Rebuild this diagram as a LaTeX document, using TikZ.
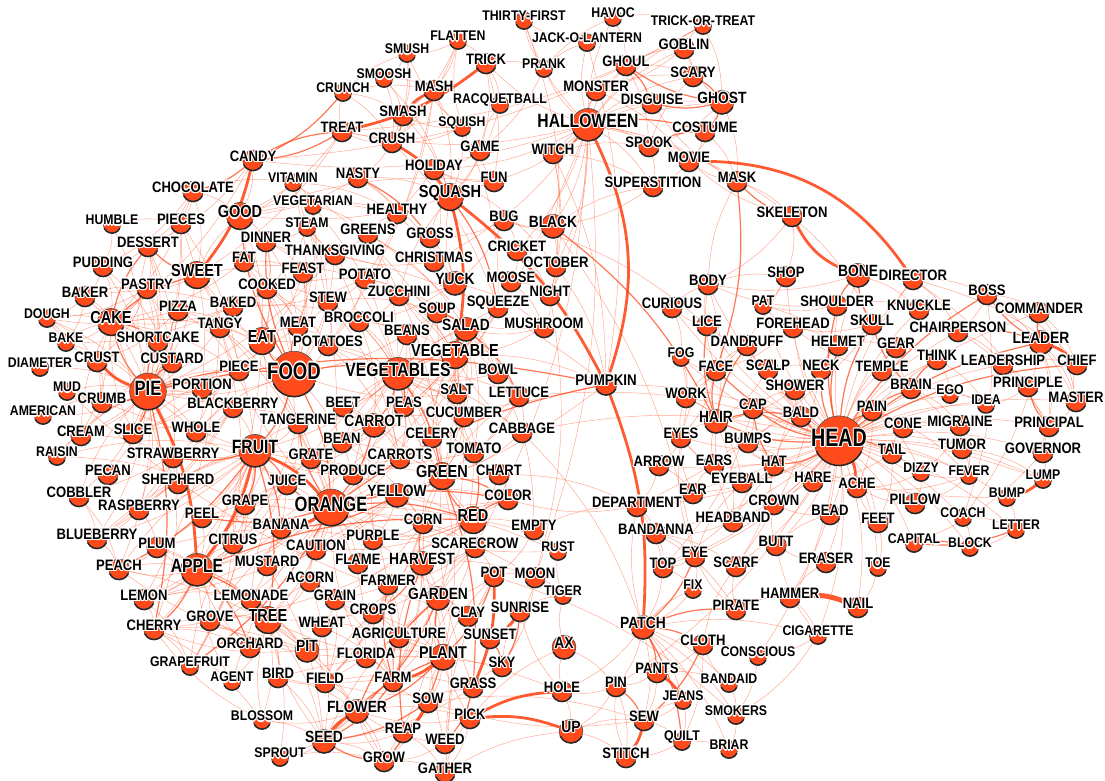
\documentclass[tikz,border=0pt]{standalone}
\usepackage{fontspec}
\setmainfont{Liberation Sans}
\usepackage{graphicx}
\usetikzlibrary{backgrounds}

\definecolor{netred}{HTML}{FF4A1C}

% white outline round the words
\newcommand\hcopy[3]{\rlap{\hspace*{#1}\raisebox{#2}{\textcolor{white}{#3}}}}
\newcommand\halo[1]{\hcopy{1.3pt}{0pt}{#1}\hcopy{-1.3pt}{0pt}{#1}\hcopy{0pt}{1.3pt}{#1}\hcopy{0pt}{-1.3pt}{#1}%
  \hcopy{.9pt}{.9pt}{#1}\hcopy{-.9pt}{.9pt}{#1}\hcopy{.9pt}{-.9pt}{#1}\hcopy{-.9pt}{-.9pt}{#1}#1}

\tikzset{
  wdot/.style={circle, fill=netred, draw=black!70, line width=0.6pt, inner sep=0pt},
  wrim/.style={draw=black!85, line width=1.5pt},
  wlabel/.style={inner sep=0pt, text=black},
  thinedge/.style={draw=netred, draw opacity=0.5, line width=0.45pt},
  midedge/.style={draw=netred, draw opacity=0.75, line width=1.2pt},
  fatedge/.style={draw=netred, draw opacity=0.9, line width=2.8pt},
}

% id / x / y / radius / word
\newcommand\wordlist{thirtyfirst/524/16/8/THIRTY-FIRST,havoc/613/13/8/HAVOC,trickortreat/703/21/8/TRICK-OR-TREAT,
flatten/458/36/8/FLATTEN,jackolantern/587/38/8/JACK-O-LANTERN,goblin/684/44/9.5/GOBLIN,smush/407/49/8/SMUSH,
trick/486/59/9.5/TRICK,prank/544/64/8/PRANK,ghoul/626/61/9.5/GHOUL,scary/693/72/9.5/SCARY,smoosh/384/74/8/SMOOSH,
crunch/343/88/8/CRUNCH,mash/434/86/9.5/MASH,monster/596/86/9.5/MONSTER,racquetball/500/100/8/RACQUETBALL,
disguise/652/99/9.5/DISGUISE,ghost/722/98/11/GHOST,smash/403/111/9.5/SMASH,halloween/588/121/15/HALLOWEEN,
squish/462/123/8/SQUISH,costume/705/127/9.5/COSTUME,treat/342/127/9.5/TREAT,crush/392/138/9.5/CRUSH,
game/480/146/9.5/GAME,spook/649/142/9.5/SPOOK,witch/553/149/9.5/WITCH,movie/689/157/9.5/MOVIE,
candy/253/156/9.5/CANDY,holiday/434/165/9.5/HOLIDAY,fun/494/177/9.5/FUN,nasty/358/173/9.5/NASTY,
mask/737/177/9.5/MASK,superstition/653/182/9.5/SUPERSTITION,vitamin/293/178/8/VITAMIN,chocolate/193/187/9.5/CHOCOLATE,
squash/450/193/12.5/SQUASH,healthy/397/209/9.5/HEALTHY,vegetarian/313/201/8/VEGETARIAN,bug/504/216/9.5/BUG,
black/553/222/11/BLACK,skeleton/792/212/9.5/SKELETON,good/240/212/12.5/GOOD,humble/112/220/8/HUMBLE,
pieces/181/219/9.5/PIECES,steam/307/223/8/STEAM,greens/368/229/9.5/GREENS,gross/430/233/9.5/GROSS,
dinner/266/237/9.5/DINNER,dessert/148/242/9.5/DESSERT,thanksgiving/335/250/9.5/THANKSGIVING,cricket/517/246/9.5/CRICKET,
christmas/434/257/9.5/CHRISTMAS,october/556/262/9.5/OCTOBER,fat/244/257/9.5/FAT,pudding/103/262/9.5/PUDDING,
sweet/197/271/12.5/SWEET,feast/303/268/9.5/FEAST,potato/365/274/9.5/POTATO,yuck/455/279/11/YUCK,
moose/511/277/9.5/MOOSE,body/708/280/9.5/BODY,shop/786/272/9.5/SHOP,bone/858/271/11/BONE,
director/913/275/9.5/DIRECTOR,boss/987/290/9.5/BOSS,baker/85/292/9.5/BAKER,pastry/147/284/9.5/PASTRY,
cooked/267/284/9.5/COOKED,zucchini/399/291/9.5/ZUCCHINI,night/550/291/9.5/NIGHT,curious/672/303/9.5/CURIOUS,
pat/763/301/8/PAT,shoulder/837/301/9.5/SHOULDER,knuckle/919/305/9.5/KNUCKLE,commander/1039/308/9.5/COMMANDER,
stew/328/297/9.5/STEW,soup/437/308/9.5/SOUP,squeeze/498/303/9.5/SQUEEZE,pizza/178/306/9.5/PIZZA,
baked/233/302/9.5/BAKED,dough/47/314/8/DOUGH,cake/111/318/12.5/CAKE,meat/298/322/9.5/MEAT,
broccoli/359/317/9.5/BROCCOLI,tangy/220/323/9.5/TANGY,salad/466/325/11/SALAD,mushroom/544/323/9.5/MUSHROOM,
lice/707/321/9.5/LICE,forehead/793/323/9.5/FOREHEAD,skull/872/320/9.5/SKULL,chairperson/958/327/9.5/CHAIRPERSON,
leader/1041/338/11/LEADER,bake/66/338/8/BAKE,shortcake/158/337/9.5/SHORTCAKE,eat/262/337/12.5/EAT,
potatoes/328/341/9.5/POTATOES,beans/407/330/9.5/BEANS,dandruff/747/341/9.5/DANDRUFF,helmet/838/341/9.5/HELMET,
gear/896/343/9.5/GEAR,think/937/355/9.5/THINK,leadership/1003/360/9.5/LEADERSHIP,chief/1077/360/9.5/CHIEF,
crust/97/357/9.5/CRUST,custard/172/358/9.5/CUSTARD,vegetable/455/351/12.5/VEGETABLE,fog/681/353/8/FOG,
diameter/40/363/8/DIAMETER,piece/239/366/9.5/PIECE,food/294/371/21/FOOD,vegetables/398/370/15/VEGETABLES,
bowl/498/369/9.5/BOWL,face/716/366/9.5/FACE,scalp/768/365/9.5/SCALP,neck/821/365/9.5/NECK,
temple/882/366/9.5/TEMPLE,portion/202/384/9.5/PORTION,salt/457/389/9.5/SALT,lettuce/519/392/9.5/LETTUCE,
pumpkin/606/380/10/PUMPKIN,shower/795/385/9.5/SHOWER,brain/911/384/9.5/BRAIN,ego/950/390/8/EGO,
principle/1028/382/9.5/PRINCIPLE,mud/67/387/8/MUD,pie/148/388/17/PIE,crumb/102/398/9.5/CRUMB,
blackberry/233/403/9.5/BLACKBERRY,beet/343/402/9.5/BEET,peas/404/402/9.5/PEAS,work/686/393/9.5/WORK,
cap/753/404/9.5/CAP,bald/801/412/9.5/BALD,pain/872/406/9.5/PAIN,idea/986/400/8/IDEA,
master/1076/397/9.5/MASTER,american/43/411/8/AMERICAN,tangerine/298/419/9.5/TANGERINE,carrot/374/421/11/CARROT,
cucumber/464/412/9.5/CUCUMBER,cone/903/423/9.5/CONE,migraine/960/421/9.5/MIGRAINE,hair/716/417/11/HAIR,
principal/1049/422/9.5/PRINCIPAL,cream/81/431/9.5/CREAM,slice/133/429/9.5/SLICE,whole/196/427/9.5/WHOLE,
bean/342/438/9.5/BEAN,celery/432/433/9.5/CELERY,tomato/474/448/9.5/TOMATO,cabbage/522/428/9.5/CABBAGE,
eyes/681/433/9.5/EYES,bumps/748/438/9.5/BUMPS,head/839/438/23/HEAD,tail/892/449/9.5/TAIL,
tumor/962/444/9.5/TUMOR,governor/1043/448/9.5/GOVERNOR,raisin/57/452/8/RAISIN,strawberry/173/453/9.5/STRAWBERRY,
fruit/255/447/15/FRUIT,grate/311/454/9.5/GRATE,carrots/400/454/9.5/CARROTS,arrow/659/461/9.5/ARROW,
ears/714/460/9.5/EARS,hat/774/461/9.5/HAT,dizzy/921/468/8/DIZZY,fever/969/471/8/FEVER,
lump/1043/475/8/LUMP,pecan/108/470/9.5/PECAN,produce/353/470/9.5/PRODUCE,green/442/472/12.5/GREEN,
chart/499/470/9.5/CHART,eyeball/742/478/9.5/EYEBALL,hare/813/477/9.5/HARE,ache/857/483/9.5/ACHE,
shepherd/178/479/9.5/SHEPHERD,juice/287/480/9.5/JUICE,yellow/397/491/11/YELLOW,color/508/495/9.5/COLOR,
department/637/502/9.5/DEPARTMENT,ear/693/489/9.5/EAR,crown/774/500/9.5/CROWN,pillow/915/499/9.5/PILLOW,
bump/1007/493/8/BUMP,cobbler/79/492/9.5/COBBLER,raspberry/139/505/9.5/RASPBERRY,grape/245/500/9.5/GRAPE,
orange/331/504/17/ORANGE,peel/202/513/9.5/PEEL,banana/281/524/9.5/BANANA,red/473/516/12.5/RED,
empty/534/525/9.5/EMPTY,headband/733/517/9.5/HEADBAND,bead/830/510/9.5/BEAD,coach/963/513/8/COACH,
feet/878/518/9.5/FEET,letter/1016/525/8/LETTER,blueberry/97/534/9.5/BLUEBERRY,plum/157/543/9.5/PLUM,
citrus/233/539/9.5/CITRUS,caution/316/545/9.5/CAUTION,corn/423/519/9.5/CORN,scarecrow/475/543/9.5/SCARECROW,
rust/558/547/8/RUST,bandanna/656/529/9.5/BANDANNA,butt/776/541/9.5/BUTT,capital/914/539/8/CAPITAL,
block/970/543/8/BLOCK,purple/373/535/9.5/PURPLE,peach/119/565/9.5/PEACH,apple/197/566/15/APPLE,
mustard/267/561/9.5/MUSTARD,flame/358/559/9.5/FLAME,harvest/422/559/11/HARVEST,pot/494/572/9.5/POT,
moon/535/573/9.5/MOON,eye/695/552/9.5/EYE,scarf/736/562/9.5/SCARF,eraser/826/558/9.5/ERASER,
toe/878/563/8/TOE,tiger/563/591/8/TIGER,top/663/563/9.5/TOP,fix/693/585/8/FIX,
acorn/310/577/9.5/ACORN,farmer/388/580/9.5/FARMER,lemon/144/595/9.5/LEMON,lemonade/251/595/9.5/LEMONADE,
grain/335/595/9.5/GRAIN,garden/438/594/11/GARDEN,sunrise/520/607/9.5/SUNRISE,pirate/736/605/9.5/PIRATE,
hammer/790/593/9.5/HAMMER,nail/858/603/9.5/NAIL,cherry/154/625/9.5/CHERRY,grove/210/616/9.5/GROVE,
tree/268/616/12.5/TREE,wheat/322/622/9.5/WHEAT,crops/373/609/9.5/CROPS,clay/468/612/9.5/CLAY,
patch/643/623/11/PATCH,cigarette/818/631/8/CIGARETTE,orchard/250/643/9.5/ORCHARD,pit/307/646/11/PIT,
agriculture/399/633/9.5/AGRICULTURE,sunset/490/634/9.5/SUNSET,ax/564/643/11/AX,cloth/703/640/9.5/CLOTH,
conscious/758/652/8/CONSCIOUS,grapefruit/190/662/8/GRAPEFRUIT,agent/232/677/8/AGENT,bird/278/673/9.5/BIRD,
florida/366/653/9.5/FLORIDA,plant/443/653/12/PLANT,pants/657/668/9.5/PANTS,field/325/678/9.5/FIELD,
farm/393/677/9.5/FARM,sky/502/662/9.5/SKY,grass/473/683/9.5/GRASS,hole/562/687/9.5/HOLE,
pin/616/682/9.5/PIN,jeans/683/696/8/JEANS,bandaid/729/679/8/BANDAID,flower/357/707/11/FLOWER,
sow/428/698/9.5/SOW,pick/470/714/9.5/PICK,sew/644/716/9.5/SEW,smokers/736/711/8/SMOKERS,
blossom/262/716/8/BLOSSOM,seed/324/737/11/SEED,reap/403/728/9.5/REAP,up/571/727/11/UP,
quilt/682/737/8/QUILT,weed/445/739/9.5/WEED,sprout/280/753/8/SPROUT,grow/384/757/9.5/GROW,
stitch/626/753/9.5/STITCH,briar/729/745/8/BRIAR,gather/445/768/9.5/GATHER}

\begin{document}
\begin{tikzpicture}[x=1pt, y=-1pt]
  \useasboundingbox (0,0) rectangle (1105,780);

  % circles
  \foreach \id/\px/\py/\rad/\word in \wordlist {
    \pgfmathsetmacro\off{4.5-0.12*(\rad-8)}
    \pgfmathsetmacro\rr{1.08*\rad}
    \node[wdot, minimum size=2*\rr*1pt] (\id) at (\px,\py+\off) {};
    \draw[wrim] (\id.center) ++(205:\rr*1pt) arc[start angle=205, end angle=335, radius=\rr*1pt];
  }

  % words
  \foreach \id/\px/\py/\rad/\word in \wordlist {
    \pgfmathsetmacro\fs{8+0.75*\rad}
    \pgfmathsetmacro\sx{max(0.78,0.95-0.009*\rad)}
    \node[wlabel, font=\fontsize{\fs}{\fs}\selectfont\bfseries] (\id-t) at (\px,\py) {\scalebox{\sx}[1]{\halo{\word}}};
  }

  \begin{scope}[on background layer]
    \fill[white] (0,0) rectangle (1105,780);

    % weak links
    \foreach \a/\b in {halloween/witch,halloween/ghost,halloween/goblin,halloween/monster,halloween/scary,halloween/spook,
      halloween/october,halloween/black,halloween/candy,halloween/trickortreat,halloween/jackolantern,halloween/thirtyfirst,
      halloween/mask,halloween/disguise,halloween/holiday,halloween/superstition,halloween/skeleton,halloween/night,
      halloween/treat,halloween/prank,halloween/havoc,halloween/trick,halloween/ghoul,halloween/movie,halloween/fun,
      halloween/moon,halloween/scarecrow,halloween/christmas,halloween/orange,halloween/cricket,
      ghost/spook,ghost/goblin,ghost/movie,ghost/mask,ghoul/goblin,ghoul/monster,ghoul/scary,ghoul/spook,goblin/scary,
      goblin/trickortreat,goblin/monster,monster/scary,monster/movie,monster/disguise,monster/witch,witch/black,witch/spook,
      witch/superstition,witch/night,witch/ghost,black/cricket,black/bug,black/night,black/october,black/superstition,
      costume/mask,costume/movie,mask/disguise,mask/skeleton,mask/movie,movie/superstition,spook/superstition,spook/scary,
      trick/prank,trick/game,trick/racquetball,trick/fun,prank/havoc,prank/game,prank/jackolantern,prank/thirtyfirst,
      jackolantern/pumpkin,jackolantern/thirtyfirst,thirtyfirst/october,havoc/trickortreat,havoc/ghoul,trickortreat/treat,
      trickortreat/candy,trickortreat/ghost,fun/game,fun/holiday,fun/good,game/racquetball,game/squash,game/holiday,
      racquetball/squash,squish/squash,squish/smash,squish/smush,squish/mash,squish/crush,squish/squeeze,squish/flatten,
      flatten/smush,flatten/smash,flatten/crush,flatten/mash,flatten/trick,smush/smoosh,smush/smash,smush/crush,
      smoosh/smash,smoosh/mash,smoosh/crush,smoosh/squash,crunch/crush,crunch/smash,crunch/smush,crunch/mash,
      mash/potato,mash/potatoes,mash/squash,mash/crush,smash/squash,crush/squeeze,crush/nasty,crush/treat,treat/good,
      treat/sweet,treat/holiday,treat/crunch,holiday/christmas,holiday/thanksgiving,holiday/october,christmas/thanksgiving,
      christmas/greens,thanksgiving/feast,thanksgiving/dinner,thanksgiving/food,thanksgiving/pumpkin,thanksgiving/pie,
      bug/cricket,bug/gross,bug/yuck,bug/lice,cricket/night,cricket/moose,october/night,october/pumpkin,moose/squeeze,
      moose/night,moose/mushroom,night/moon,night/mushroom}
      \draw[thinedge] (\a) to[bend left=12] (\b);
    \foreach \a/\b in {candy/good,candy/cake,candy/dessert,chocolate/sweet,chocolate/cake,chocolate/pudding,
      chocolate/dessert,chocolate/pieces,chocolate/good,chocolate/vitamin,vitamin/healthy,vitamin/vegetable,vitamin/food,
      vitamin/orange,vitamin/good,vitamin/vegetarian,nasty/yuck,nasty/good,nasty/squash,nasty/healthy,vegetarian/meat,
      vegetarian/vegetables,vegetarian/food,vegetarian/healthy,vegetarian/greens,vegetarian/steam,good/eat,good/healthy,
      good/fun,good/dinner,good/fat,humble/pie,humble/pieces,humble/pudding,pieces/pie,pieces/piece,pieces/portion,
      pieces/slice,pieces/dessert,steam/cooked,steam/vegetables,steam/stew,steam/broccoli,steam/dinner,greens/green,
      greens/vegetables,greens/salad,greens/lettuce,greens/healthy,gross/yuck,gross/squash,gross/healthy,dinner/eat,
      dinner/feast,dinner/meat,dinner/cooked,dessert/pie,dessert/pudding,dessert/pastry,dessert/custard,dessert/shortcake,
      fat/food,fat/eat,fat/meat,fat/cake,fat/feast,pudding/custard,pudding/pie,pudding/cake,pudding/baker,sweet/pie,
      sweet/potato,sweet/tangy,sweet/pastry,sweet/good,sweet/fruit,sweet/orange,feast/food,feast/eat,feast/meat,
      potato/potatoes,potato/vegetable,potato/baked,potato/salad,potato/soup,potato/stew,yuck/squash,yuck/broccoli,
      yuck/mushroom,yuck/zucchini,baker/bake,baker/cake,baker/dough,baker/pastry,baker/pie,baker/baked,pastry/pie,
      pastry/cake,pastry/dough,pastry/crust,pastry/shortcake,pastry/custard,cooked/food,cooked/meat,cooked/baked,
      cooked/stew,cooked/eat,cooked/potatoes,zucchini/squash,zucchini/vegetable,zucchini/cucumber,zucchini/broccoli,
      stew/soup,stew/meat,stew/potatoes,stew/food,stew/carrots,stew/vegetables,soup/vegetable,soup/bowl,soup/food,
      soup/beans,soup/vegetables,squeeze/juice,squeeze/orange,squeeze/lemon,pizza/pie,pizza/food,pizza/slice,pizza/eat,
      pizza/dough,pizza/crust,pizza/piece,baked/bake,baked/potato,baked/beans,baked/cake,baked/pie,dough/bake,dough/cake,
      dough/pie,dough/crust,cake/bake,cake/eat,cake/slice,cake/cream,cake/piece,cake/custard,meat/potatoes,meat/pie,
      broccoli/vegetable,broccoli/vegetables,broccoli/green,broccoli/carrot,tangy/orange,tangy/tangerine,tangy/lemon,
      tangy/citrus,salad/vegetable,salad/tomato,salad/bowl,salad/green,salad/cucumber,salad/vegetables,mushroom/soup,
      mushroom/salad,mushroom/vegetable,bake/pie,bake/cake,shortcake/strawberry,shortcake/pie,eat/piece,eat/pie,eat/fruit,
      eat/apple,eat/meat,eat/vegetables,potatoes/vegetables,potatoes/carrots,potatoes/food,beans/bean,beans/vegetables,
      beans/peas,beans/green,crust/crumb,crust/dough,custard/cream,vegetable/carrot,vegetable/pumpkin,vegetable/garden,
      vegetable/corn,vegetable/celery,diameter/pie,diameter/crust,piece/pie,piece/slice,piece/portion,piece/whole,
      food/pie,food/apple,food/produce,vegetables/salad,vegetables/celery,vegetables/fruit,vegetables/produce,
      vegetables/carrots,vegetables/cabbage,vegetables/lettuce,vegetables/corn,vegetables/beet,vegetables/tomato,
      vegetables/cucumber,bowl/salad,bowl/empty,bowl/vegetables,portion/pie,portion/slice,portion/whole,salt/food,
      salt/potatoes,salt/vegetables,salt/soup,lettuce/cabbage,lettuce/tomato,lettuce/head,lettuce/green,pumpkin/pie,
      pumpkin/orange,mud/pie,mud/clay,mud/crumb,pie/pecan,pie/american,pie/shepherd,pie/strawberry,pie/blackberry,
      pie/cobbler,pie/cream,pie/whole,pie/peach,pie/blueberry,pie/raspberry,pie/portion,pie/piece,pie/dessert,crumb/cake,
      blackberry/strawberry,blackberry/raspberry,blackberry/blueberry,blackberry/fruit,blackberry/cobbler,beet/red,
      beet/vegetable,beet/carrot,beet/purple,peas/carrots,peas/carrot,peas/green,peas/vegetable,american/pie,
      tangerine/fruit,tangerine/citrus,tangerine/juice,carrot/celery,carrot/carrots,carrot/grate,cucumber/salad,
      cucumber/green,cucumber/tomato,cucumber/vegetable,cream/pie,cream/custard,cream/cake,cream/strawberry,slice/piece,
      slice/whole,slice/cake,whole/piece,whole/food,bean/green,bean/corn,bean/carrot,bean/vegetables,celery/vegetable,
      celery/green,celery/salad,tomato/vegetable,tomato/fruit,tomato/garden,tomato/vegetables,cabbage/green,cabbage/head,
      cabbage/vegetable,raisin/grape,raisin/fruit,raisin/pie,raisin/cream,strawberry/red,strawberry/raspberry,
      strawberry/blueberry,strawberry/cherry,fruit/lemon,fruit/citrus,fruit/tangerine,fruit/produce,fruit/pie,fruit/peel,
      fruit/raspberry,fruit/blueberry,fruit/grapefruit,fruit/plum,fruit/cherry,grate/carrot,grate/orange,grate/peel,
      grate/food,carrots/orange,carrots/vegetables,carrots/grate,produce/vegetables,produce/fruit,produce/farm,
      produce/green,green/plant,green/vegetables,green/lettuce,chart/color,chart/department,chart/green,chart/red,
      juice/apple,juice/grape,juice/lemonade,juice/squeeze,yellow/color,yellow/corn,yellow/lemon,yellow/caution,
      yellow/mustard,yellow/purple,color/orange,color/purple,color/yellow,shepherd/pie,shepherd/fruit,cobbler/peach,
      cobbler/pie,cobbler/blueberry,raspberry/blueberry,raspberry/fruit,raspberry/plum,grape/purple,grape/juice,
      grape/grapefruit,grape/orange,orange/apple,orange/citrus,orange/florida,orange/lemon,orange/tree,orange/grove,
      orange/purple,orange/caution,orange/tangy,orange/agent,orange/rust,orange/flame,orange/tiger,peel/banana,
      peel/apple,banana/apple,red/purple,red/cherry,red/flame,red/caution,red/rust,red/empty,red/scarecrow,empty/pot,
      blueberry/fruit,blueberry/peach,plum/purple,plum/peach,plum/pit,plum/apple,citrus/lemon,citrus/grapefruit,
      citrus/fruit,caution/flame,caution/mustard,corn/yellow,corn/farm,corn/field,corn/crops,corn/green,corn/scarecrow,
      corn/grain,corn/purple,scarecrow/crops,scarecrow/farm,scarecrow/field,scarecrow/harvest,scarecrow/farmer,
      scarecrow/pot,rust/orange,peach/fruit,peach/pit,peach/apple,apple/juice,apple/pit,apple/lemon,apple/peach,
      apple/plum,apple/citrus,apple/lemonade,apple/grove,mustard/seed,mustard/banana,flame/purple,harvest/farm,
      harvest/farmer,harvest/gather,harvest/moon,harvest/grain,harvest/wheat,harvest/garden,pot/clay,pot/garden,pot/moon,
      pot/smokers,moon/sunrise,moon/sky,moon/tiger,tiger/rust,acorn/tree,acorn/seed,acorn/grain,acorn/orange,
      farmer/field,farmer/crops,farmer/agriculture,lemon/lemonade,lemon/grapefruit,lemon/cherry,lemonade/juice,
      lemonade/grove,grain/wheat,grain/field,grain/crops,grain/farm,garden/seed,garden/grow,garden/weed,garden/clay,
      sunrise/sky,sunrise/tiger,cherry/tree,cherry/pit,cherry/blossom,cherry/orchard,cherry/grapefruit,grove/tree,
      grove/orchard,grove/orange,tree/seed,tree/plant,tree/bird,tree/flower,tree/sprout,tree/acorn,tree/blossom,tree/grow,
      wheat/field,wheat/farm,wheat/crops,crops/field,crops/agriculture,crops/plant,crops/grain,clay/mud,agriculture/farm,
      agriculture/farmer,agriculture/plant,pit/peach,pit/cherry,pit/hole,orchard/apple,grapefruit/citrus,agent/orange,
      agent/apple,bird/seed,bird/flower,bird/sky,florida/orange,florida/farm,florida/grove,plant/tree,plant/pot,plant/sow,
      plant/field,field/flower,field/grass,field/crops,field/wheat,field/bird,farm/crops,farm/agriculture,farm/harvest,
      sky/sunrise,grass/green,grass/field,grass/seed,grass/sky,flower/blossom,flower/sprout,flower/grow,flower/pick,
      sow/plant,sow/sew,sow/grow,sow/farm,pick/gather,pick/harvest,pick/flower,pick/ax,pick/grass,blossom/cherry,
      blossom/tree,blossom/seed,seed/sprout,seed/grow,seed/tree,seed/garden,reap/gather,reap/grow,reap/seed,weed/garden,
      weed/grow,weed/pot,weed/flower,sprout/grow,grow/flower,grow/gather,gather/pick,gather/up}
      \draw[thinedge] (\a) to[bend left=12] (\b);
    \foreach \a/\b in {head/forehead,head/scalp,head/temple,head/bumps,head/eyeball,head/headband,head/crown,head/hare,
      head/bead,head/feet,head/toe,head/butt,head/migraine,head/tumor,head/dizzy,head/pillow,head/cone,head/lice,
      head/dandruff,head/shower,head/knuckle,head/gear,head/ego,head/idea,head/fever,head/coach,head/capital,
      head/bandanna,head/hammer,head/nail,head/department,head/arrow,head/top,head/lump,head/bump,head/governor,
      head/eraser,head/pat,head/shop,head/work,head/curious,head/chairperson,head/leadership,head/ears,head/eye,
      head/scarf,head/pin,head/fog,head/conscious,head/cigarette,head/block,head/letter,head/ear,head/eyes,head/body,
      head/bone,head/director,head/commander,head/master,head/principal,head/think,
      skeleton/skull,skeleton/body,skeleton/movie,bone/body,bone/knuckle,skull/helmet,skull/forehead,shoulder/neck,
      shoulder/knuckle,shoulder/pat,shoulder/body,director/boss,director/chief,director/department,director/chairperson,
      director/principal,boss/chief,boss/commander,boss/chairperson,boss/master,boss/coach,commander/chief,
      commander/master,chairperson/leadership,chairperson/principal,leader/leadership,leader/principal,leader/master,
      leader/governor,leader/coach,leadership/principle,leadership/chief,principle/idea,master/chief,master/principal,
      governor/principal,governor/capital,governor/lump,think/idea,think/ego,brain/ego,brain/tumor,brain/migraine,
      brain/idea,brain/gear,brain/temple,ego/idea,tumor/migraine,tumor/lump,tumor/fever,migraine/pain,migraine/dizzy,
      migraine/fever,pain/ache,pain/dizzy,pain/fever,pain/cone,fever/dizzy,fever/pillow,fever/ache,dizzy/pillow,
      dizzy/ache,bump/bumps,bump/letter,bumps/lump,bumps/hat,bumps/bald,tail/hare,tail/cone,tail/feet,hare/hair,
      hare/ache,pillow/ache,coach/block,coach/letter,letter/block,feet/toe,feet/ache,toe/nail,hammer/eraser,
      hammer/cigarette,eraser/butt,cigarette/butt,cigarette/smokers,cigarette/conscious,butt/crown,butt/bead,bead/crown,
      crown/hat,crown/headband,headband/hair,headband/bandanna,headband/hat,bandanna/scarf,bandanna/pirate,bandanna/top,
      bandanna/eye,eye/eyes,eye/eyeball,eye/fix,eye/top,eyeball/eyes,eyeball/ears,eyeball/hat,ear/ears,ear/eyes,
      ear/eyeball,ears/hair,ears/eyes,ears/bumps,eyes/face,eyes/hair,eyes/work,eyes/arrow,arrow/department,arrow/ear,
      department/top,department/bandanna,hat/helmet,hat/scarf,hat/hair,hat/top,hat/bald,cap/bald,cap/top,cap/hair,
      cap/bumps,cap/shower,bald/shower,shower/hair,shower/scalp,scalp/hair,scalp/dandruff,scalp/neck,neck/scarf,
      neck/helmet,temple/forehead,temple/gear,forehead/face,forehead/helmet,forehead/pat,face/eyes,face/body,face/fog,
      face/dandruff,dandruff/lice,lice/curious,lice/body,fog/eyes,fog/work,curious/body,curious/fog,work/hair,work/face,
      body/hair,body/shop,pat/helmet,shop/pat,shop/work,helmet/gear,gear/think,hair/headband,hair/eyeball,top/fix,
      top/patch,fix/patch,pirate/eye,pirate/scarf,pirate/hammer,patch/sew,patch/fix,patch/bandaid,patch/jeans,
      patch/briar,patch/smokers,patch/pin,patch/cigarette,patch/hole,patch/department,cloth/pants,cloth/quilt,
      cloth/scarf,cloth/conscious,conscious/smokers,pants/sew,pants/pin,pants/bandaid,pin/hole,pin/up,pin/stitch,
      jeans/sew,jeans/quilt,bandaid/cloth,bandaid/smokers,smokers/briar,sew/quilt,sew/sow,sew/jeans,quilt/stitch,
      quilt/briar,stitch/pin,hole/up,hole/ax,hole/sunrise,ax/tiger,ax/pin,up/stitch,up/sew,
      superstition/black,pumpkin/head,body/mask,witch/pumpkin,skeleton/shop,department/color,empty/department,
      cabbage/patch,black/eye}
      \draw[thinedge] (\a) to[bend left=12] (\b);

    % stronger links
    \foreach \a/\b in {food/eat,food/fruit,food/vegetables,food/meat,food/good,food/dinner,food/orange,
      vegetables/vegetable,vegetables/carrot,vegetables/peas,vegetables/green,pie/cake,pie/slice,pie/crumb,pie/cherry,
      pie/pumpkin,pie/custard,pie/shortcake,pie/food,cake/sweet,cake/shortcake,cake/dessert,candy/chocolate,candy/treat,
      sweet/dessert,fruit/banana,fruit/grape,fruit/strawberry,fruit/tree,fruit/juice,fruit/peach,orange/juice,
      orange/tangerine,orange/red,orange/yellow,orange/color,orange/grapefruit,orange/peel,apple/tree,apple/orchard,
      apple/red,apple/cherry,red/green,red/color,green/yellow,green/grass,green/color,yellow/banana,plant/grow,
      plant/flower,plant/garden,farm/farmer,harvest/crops,harvest/corn,garden/flower,seed/plant,sow/seed,reap/harvest,
      grass/weed,sunset/sky,head/hair,head/hat,head/shoulder,head/neck,head/skull,head/brain,head/pain,head/tail,
      head/face,head/cap,head/leader,head/chief,head/boss,head/helmet,head/bald,hair/bald,hair/face,hair/dandruff,
      hair/lice,hat/cap,leader/commander,leader/boss,chairperson/leader,brain/think,brain/skull,principal/principle,
      eye/patch,patch/pirate,patch/quilt,patch/cloth,patch/pants,mask/face,black/hair,ghost/ghoul,ghost/disguise,
      ghoul/disguise,ghost/costume,spook/costume,scary/ghost,halloween/witch,halloween/costume,squash/squeeze,
      smash/crush,nasty/gross,crunch/candy,treat/candy,skull/bone,shoulder/bone,letter/capital,capital/block,
      salad/lettuce,soup/salad,tomato/red,carrot/orange,pot/plant,pin/sew,cloth/sew,orange/pumpkin,skeleton/mask,
      vegetable/salad,sunrise/sky,grow/seed,farm/seed,flower/garden}
      \draw[midedge] (\a) to[bend left=12] (\b);
    \foreach \a/\b in {trick/treat,smash/mash,sew/stitch,pants/jeans,seed/flower,sow/reap,pie/crust,pie/apple,
      candy/sweet,pot/grass,sunrise/sunset,fruit/apple,fruit/orange,orange/banana,head/ache,lump/bump,leader/chief,
      squash/pumpkin,pumpkin/patch,squash/vegetable,plant/farm,pick/up,pick/hole,crush/squash}
      \draw[fatedge] (\a) to[bend left=12] (\b);
    \draw[fatedge] (halloween) to[bend left=22] (pumpkin);
    \draw[fatedge] (movie) to[bend left=28] (director);
    \draw[fatedge] (skeleton) to[bend right=20] (bone);
    \draw[fatedge, line width=5pt] (hammer) to[bend left=15] (nail);
  \end{scope}
\end{tikzpicture}
\end{document}
